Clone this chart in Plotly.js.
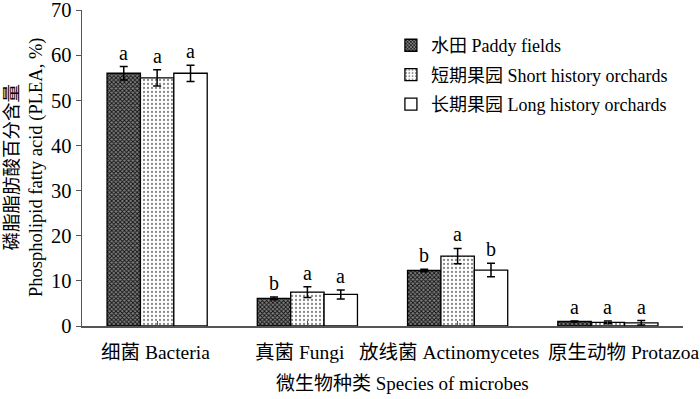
<!DOCTYPE html>
<html><head><meta charset="utf-8">
<script src="https://cdn.plot.ly/plotly-3.0.1.min.js"></script>
<style>body{margin:0;background:#fff}#c{width:700px;height:399px}</style>
</head><body><div id="c"></div>
<script>
const categories = ["细菌 Bacteria", "真菌 Fungi", "放线菌 Actinomycetes", "原生动物 Protazoa"];
const seriesNames = ["水田 Paddy fields", "短期果园 Short history orchards", "长期果园 Long history orchards"];
const paddy = [56.0, 6.1, 12.3, 1.0];
const paddyErr = [1.5, 0.3, 0.3, 0.1];
const shortOrch = [55.0, 7.5, 15.5, 0.8];
const shortErr = [1.8, 1.2, 1.7, 0.3];
const longOrch = [56.0, 7.0, 12.4, 0.7];
const longErr = [1.8, 1.0, 1.5, 0.5];
const paddyLetters = ["a", "b", "b", "a"];
const shortLetters = ["a", "a", "a", "a"];
const longLetters = ["a", "a", "b", "a"];
const xTitle = "微生物种类 Species of microbes";
const yTitle = "磷脂脂肪酸百分含量<br>Phospholipid fatty acid (PLEA, %)";

// layout-only: horizontal nudges (px) of category labels, as placed in the original figure
const labelShift = [-2, -7, -9, 16];

const font = "Liberation Serif, Times New Roman, Noto Sans CJK SC, serif";
const values = [paddy, shortOrch, longOrch];
const errs = [paddyErr, shortErr, longErr];
const letters = [paddyLetters, shortLetters, longLetters];
const patterns = [
  {shape: "x", fgcolor: "#111111", bgcolor: "#808080", size: 3, solidity: 0.5},
  {shape: ".", fgcolor: "#8a8a8a", bgcolor: "#ffffff", size: 4, solidity: 0.25},
  {shape: "", bgcolor: "#ffffff"}
];
const xs = categories.map((c, j) => j);
const traces = values.map((v, i) => ({
  type: "bar", name: seriesNames[i], x: xs, y: v, legendgroup: "g" + i,
  marker: {color: "#ffffff", line: {color: "#000", width: 1.3}, pattern: patterns[i]},
  error_y: {type: "data", array: errs[i], visible: true, color: "#000", thickness: 1.5, width: 4}
}));
const barW = (1 - 1/3) / 3;
const annotations = [];
values.forEach((v, i) => {
  v.forEach((val, j) => {
    annotations.push({
      x: j + (i - 1) * barW, y: val + errs[i][j], xref: "x", yref: "y",
      text: letters[i][j], showarrow: false, yanchor: "bottom", yshift: 1,
      font: {family: font, size: 20, color: "#000"}
    });
  });
});
categories.forEach((c, j) => {
  annotations.push({
    x: j, y: 0, xref: "x", yref: "paper", text: c, showarrow: false,
    xanchor: "center", yanchor: "middle", yshift: -26, xshift: labelShift[j],
    font: {family: font, size: 19.5, color: "#000"}
  });
});
annotations.push({
  x: 0.5, y: 0, xref: "paper", yref: "paper", text: xTitle, showarrow: false,
  xanchor: "center", yanchor: "middle", yshift: -57, xshift: 20,
  font: {family: font, size: 19, color: "#000"}
});
annotations.push({
  x: 0, y: 0.5, xref: "paper", yref: "paper", text: yTitle, showarrow: false,
  textangle: -90, xanchor: "center", yanchor: "middle", xshift: -58,
  font: {family: font, size: 18.5, color: "#000"}
});
const layout = {
  width: 700, height: 399,
  margin: {l: 82, r: 17, t: 10, b: 73},
  paper_bgcolor: "#fff", plot_bgcolor: "#fff",
  barmode: "group", bargap: 1/3, bargroupgap: 0,
  font: {family: font, color: "#000"},
  showlegend: true,
  legend: {x: 0.514, y: 0.946, xanchor: "left", yanchor: "top", bgcolor: "rgba(0,0,0,0)",
           font: {family: font, size: 18, color: "#000"}, itemwidth: 30, tracegroupgap: 3},
  xaxis: {
    range: [-0.5, 3.5], tickmode: "array", tickvals: xs, showticklabels: false,
    ticks: "inside", tickson: "boundaries", ticklen: 5, tickcolor: "#555",
    showline: true, linecolor: "#555", linewidth: 1.5, showgrid: false, zeroline: false
  },
  yaxis: {
    range: [0, 70.02], tickmode: "array", tickvals: [0, 10, 20, 30, 40, 50, 60, 70],
    ticks: "outside", ticklen: 5, tickcolor: "#555", ticklabeloverflow: "allow",
    showline: true, linecolor: "#555", linewidth: 1.5, showgrid: false, zeroline: false,
    tickfont: {family: font, size: 20.5, color: "#000"}
  },
  annotations: annotations
};
Plotly.newPlot("c", traces, layout, {displayModeBar: false, staticPlot: true});
</script></body></html>
